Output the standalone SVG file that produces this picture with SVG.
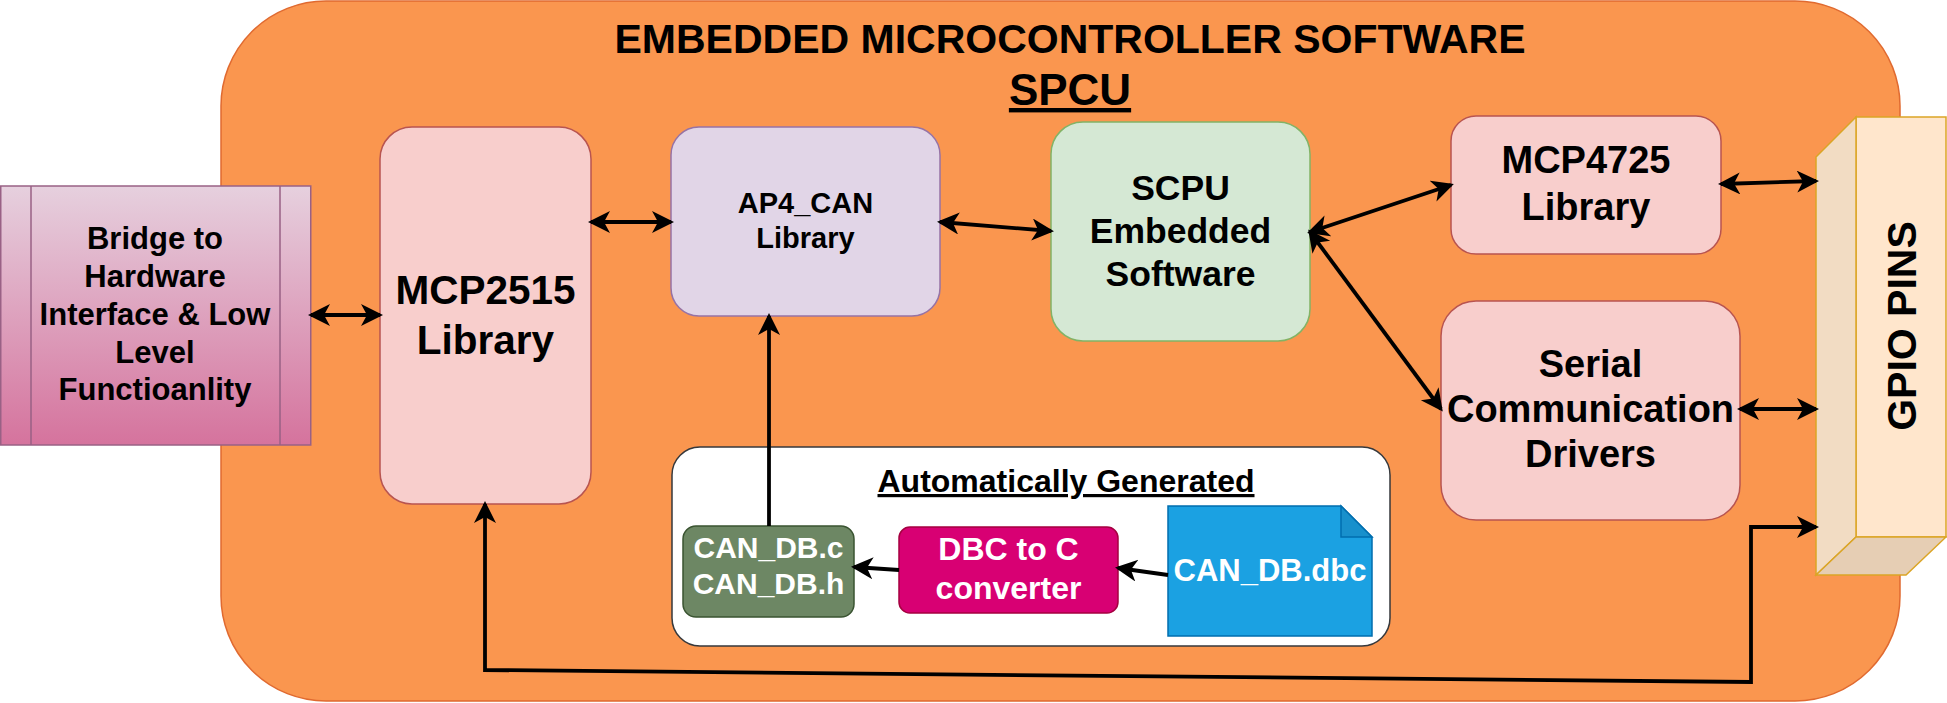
<svg xmlns="http://www.w3.org/2000/svg" width="1947" height="703" viewBox="0 0 1947 703">
<defs>
<linearGradient id="bridgeGrad" x1="0" y1="0" x2="0" y2="1">
<stop offset="0" stop-color="#e6d0de"/>
<stop offset="1" stop-color="#d5739d"/>
</linearGradient>
<marker id="arr" markerUnits="userSpaceOnUse" markerWidth="24" markerHeight="24" viewBox="0 0 24 24" refX="19" refY="11" orient="auto-start-reverse">
<path d="M0,0 L22,11 L0,22 L6,11 Z" fill="#000"/>
</marker>
</defs>
<style>
text{font-family:"Liberation Sans",Arial,sans-serif;font-weight:bold;text-anchor:middle;fill:#000}
.w{fill:#fff}
.red{fill:#f8cecc;stroke:#b85450;stroke-width:1.5}
.con{fill:none;stroke:#000;stroke-width:3.8}
</style>

<g id="container">
<rect x="221" y="1" width="1679" height="700" rx="105" ry="105" fill="#fa964f" stroke="#e06a30" stroke-width="1.5"/>
<text x="1070" y="53" font-size="41">EMBEDDED MICROCONTROLLER SOFTWARE</text>
<text x="1070" y="105" font-size="44" text-decoration="underline">SPCU</text>
</g>

<g id="bridge">
<rect x="0.75" y="186" width="310" height="259" fill="url(#bridgeGrad)" stroke="#996185" stroke-width="1.5"/>
<line x1="31" y1="186" x2="31" y2="445" stroke="#996185" stroke-width="1.5"/>
<line x1="280" y1="186" x2="280" y2="445" stroke="#996185" stroke-width="1.5"/>
<text font-size="31"><tspan x="155" y="249">Bridge to</tspan><tspan x="155" y="287">Hardware</tspan><tspan x="155" y="325">Interface &amp; Low</tspan><tspan x="155" y="363">Level</tspan><tspan x="155" y="400">Functioanlity</tspan></text>
</g>

<g id="mcp2515">
<rect class="red" x="380" y="127" width="211" height="377" rx="32" ry="32"/>
<text font-size="40.5"><tspan x="485.5" y="304">MCP2515</tspan><tspan x="485.5" y="354">Library</tspan></text>
</g>

<g id="ap4can">
<rect x="671" y="127" width="269" height="189" rx="28" ry="28" fill="#e1d5e7" stroke="#9673a6" stroke-width="1.5"/>
<text font-size="29"><tspan x="805.5" y="213">AP4_CAN</tspan><tspan x="805.5" y="248">Library</tspan></text>
</g>

<g id="scpu">
<rect x="1051" y="122" width="259" height="219" rx="32" ry="32" fill="#d5e8d4" stroke="#82b366" stroke-width="1.5"/>
<text font-size="35.5"><tspan x="1180.5" y="200">SCPU</tspan><tspan x="1180.5" y="243">Embedded</tspan><tspan x="1180.5" y="286">Software</tspan></text>
</g>

<g id="mcp4725">
<rect class="red" x="1451" y="116" width="270" height="138" rx="25" ry="25"/>
<text font-size="38"><tspan x="1586" y="173">MCP4725</tspan><tspan x="1586" y="220">Library</tspan></text>
</g>

<g id="serial">
<rect class="red" x="1441" y="301" width="299" height="219" rx="35" ry="35"/>
<text font-size="38"><tspan x="1590.5" y="377">Serial</tspan><tspan x="1590.5" y="422">Communication</tspan><tspan x="1590.5" y="467">Drivers</tspan></text>
</g>

<g id="gpio">
<rect x="1856" y="117" width="90" height="420" fill="#ffe6cc" stroke="#dba526" stroke-width="1.5"/>
<polygon points="1816,157 1856,117 1856,537 1816,575" fill="#f2dcc3" stroke="#dba526" stroke-width="1.5"/>
<polygon points="1816,575 1856,537 1946,537 1906,575" fill="#e6ceb4" stroke="#dba526" stroke-width="1.5"/>
<text transform="translate(1916,326) rotate(-90)" x="0" y="0" font-size="41">GPIO PINS</text>
</g>

<g id="autogen">
<rect x="672" y="447" width="718" height="199" rx="28" ry="28" fill="#fff" stroke="#36393d" stroke-width="1.5"/>
<text x="1066" y="492" font-size="32" text-decoration="underline">Automatically Generated</text>
</g>

<g id="candb">
<rect x="683" y="526" width="171" height="91" rx="13" ry="13" fill="#6d8764" stroke="#3a5431" stroke-width="1.5"/>
<text class="w" font-size="30"><tspan class="w" x="768.5" y="558">CAN_DB.c</tspan><tspan class="w" x="768.5" y="594">CAN_DB.h</tspan></text>
</g>

<g id="converter">
<rect x="899" y="527" width="219" height="86" rx="11" ry="11" fill="#d80073" stroke="#a50040" stroke-width="1.5"/>
<text class="w" font-size="32"><tspan class="w" x="1008.5" y="560">DBC to C</tspan><tspan class="w" x="1008.5" y="599">converter</tspan></text>
</g>

<g id="dbcfile">
<polygon points="1168,506 1341,506 1372,537 1372,636 1168,636" fill="#1ba1e2" stroke="#006eaf" stroke-width="1.5"/>
<polygon points="1341,506 1341,537 1372,537" fill="#1890cc" stroke="#006eaf" stroke-width="1.5"/>
<text class="w" x="1270" y="581" font-size="31">CAN_DB.dbc</text>
</g>

<g id="connectors">
<line class="con" x1="311" y1="315" x2="380" y2="315" marker-start="url(#arr)" marker-end="url(#arr)"/>
<line class="con" x1="591" y1="222" x2="671" y2="222" marker-start="url(#arr)" marker-end="url(#arr)"/>
<line class="con" x1="940" y1="222" x2="1051" y2="231" marker-start="url(#arr)" marker-end="url(#arr)"/>
<line class="con" x1="1310" y1="232" x2="1451" y2="185" marker-start="url(#arr)" marker-end="url(#arr)"/>
<line class="con" x1="1310" y1="232" x2="1441" y2="409" marker-start="url(#arr)" marker-end="url(#arr)"/>
<line class="con" x1="1721" y1="184" x2="1816" y2="181" marker-start="url(#arr)" marker-end="url(#arr)"/>
<line class="con" x1="1740" y1="409" x2="1816" y2="409" marker-start="url(#arr)" marker-end="url(#arr)"/>
<line class="con" x1="769" y1="526" x2="769" y2="316" marker-end="url(#arr)"/>
<line class="con" x1="899" y1="570" x2="854" y2="567" marker-end="url(#arr)"/>
<line class="con" x1="1168" y1="575" x2="1118" y2="568" marker-end="url(#arr)"/>
<polyline class="con" points="485,504 485,670 1751,682 1751,527 1816,527" marker-start="url(#arr)" marker-end="url(#arr)"/>
</g>
</svg>
